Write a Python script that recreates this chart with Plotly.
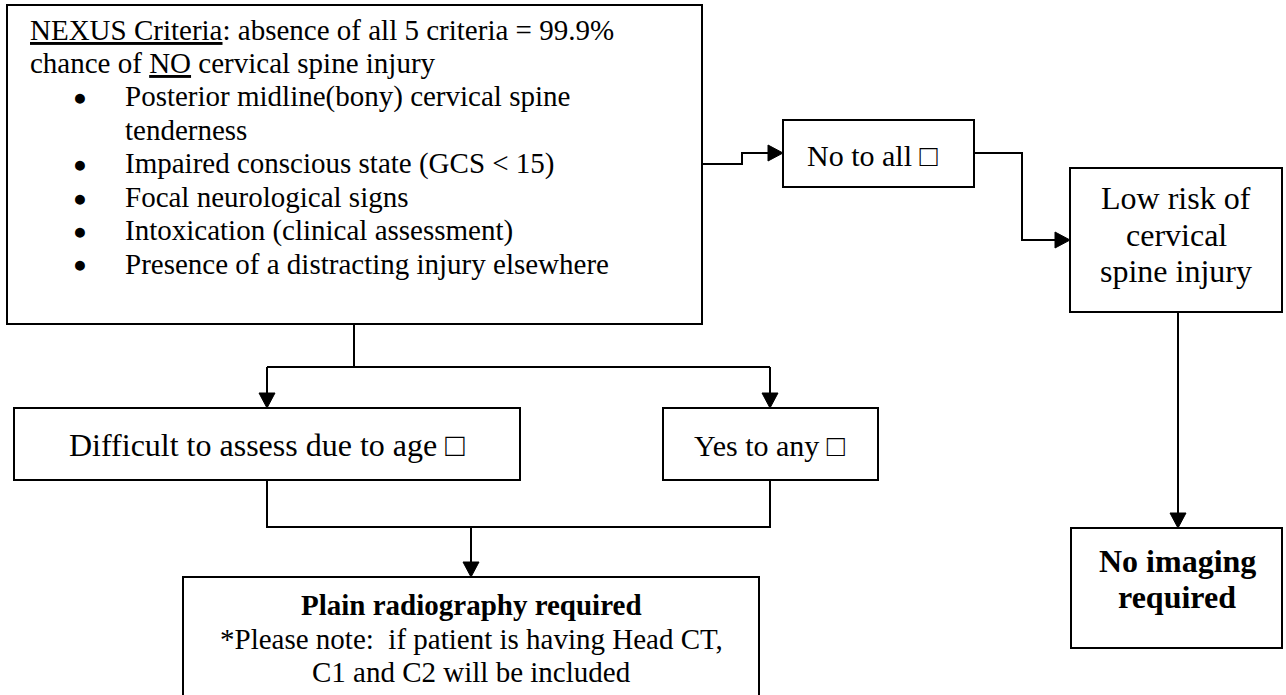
import plotly.graph_objects as go

# ---------------- data ----------------
nexus_header = ["<u>NEXUS Criteria</u>: absence of all 5 criteria = 99.9%",
                "chance of <u>NO</u> cervical spine injury"]
nexus_bullets = ["Posterior midline(bony) cervical spine",
                 None,
                 "Impaired conscious state (GCS &lt; 15)",
                 "Focal neurological signs",
                 "Intoxication (clinical assessment)",
                 "Presence of a distracting injury elsewhere"]
nexus_cont = ["", "tenderness", "", "", "", ""]
no_to_all_text = "No to all □"
low_risk_lines = ["Low risk of", "cervical", "spine injury"]
no_imaging_lines = ["<b>No imaging</b>", "<b>required</b>"]
difficult_text = "Difficult to assess due to age □"
yes_any_text = "Yes to any □"
plain_lines = ["<b>Plain radiography required</b>",
               "*Please note:  if patient is having Head CT,",
               "C1 and C2 will be included"]

# ---------------- layout geometry (pixels, y downward) ----------------
boxes = {
    "main": (7, 5, 702, 324),
    "noall": (783, 120, 974, 187),
    "low": (1070, 168, 1282, 312),
    "noimg": (1071, 528, 1282, 648),
    "diff": (14, 408, 520, 480),
    "yes": (663, 408, 878, 480),
    "plain": (183, 577, 759, 740),
}
# polylines: (points, arrow_at_end)
paths = [
    ([(702, 164), (742, 164), (742, 153), (783, 153)], True),
    ([(974, 153), (1022, 153), (1022, 240), (1070, 240)], True),
    ([(1178, 312), (1178, 528)], True),
    ([(354, 324), (354, 367)], False),
    ([(267, 367), (770, 367)], False),
    ([(267, 367), (267, 408)], True),
    ([(770, 367), (770, 408)], True),
    ([(267, 480), (267, 527), (770, 527), (770, 480)], False),
    ([(471, 527), (471, 577)], True),
]

FONT = "Liberation Serif, Times New Roman, serif"
FS = 29
LW = 2
AH_L, AH_W = 15, 8

fig = go.Figure()
shapes = []
for (x0, y0, x1, y1) in boxes.values():
    shapes.append(dict(type="rect", x0=x0, y0=y0, x1=x1, y1=y1,
                       line=dict(color="black", width=LW), fillcolor="rgba(0,0,0,0)"))

for pts, arrow in paths:
    pts = list(pts)
    if arrow:
        (xa, ya), (xb, yb) = pts[-2], pts[-1]
        dx = (xb > xa) - (xb < xa)
        dy = (yb > ya) - (yb < ya)
        bx, by = xb - dx * AH_L, yb - dy * AH_L
        px, py = -dy * AH_W, dx * AH_W
        shapes.append(dict(type="path",
                           path=f"M{xb},{yb} L{bx+px},{by+py} L{bx-px},{by-py} Z",
                           fillcolor="black", line=dict(color="black", width=1)))
        pts[-1] = (bx, by)
    d = "M" + " L".join(f"{x},{y}" for x, y in pts)
    shapes.append(dict(type="path", path=d, line=dict(color="black", width=LW)))

ann = []
def txt(x, y, s, anchor="center", size=FS):
    ann.append(dict(x=x, y=y, text=s, showarrow=False, xanchor=anchor, yanchor="middle",
                    font=dict(family=FONT, size=size, color="black"), xref="x", yref="y"))

y0, dy = 30, 33.4
for i, s in enumerate(nexus_header):
    txt(28, y0 + i * dy, s, "left")
for j, s in enumerate(nexus_bullets):
    yy = y0 + (j + 2) * dy
    if s is not None:
        txt(80, yy + 1, "●", "center", size=23)
        txt(123, yy, s, "left")
    else:
        txt(123, yy, nexus_cont[j], "left")

txt(805, 155, no_to_all_text, "left", size=30)
for i, s in enumerate(low_risk_lines):
    txt(1176, 198 + i * 36.5, s, size=32)
for i, s in enumerate(no_imaging_lines):
    txt(1177, 561 + i * 36, s, size=32)
txt(267, 445, difficult_text, size=32)
txt(770, 445, yes_any_text, size=30)
for i, s in enumerate(plain_lines):
    txt(471, 605 + i * 33.5, s)

fig.update_layout(
    width=1286, height=695, margin=dict(l=0, r=0, t=0, b=0),
    paper_bgcolor="white", plot_bgcolor="white",
    xaxis=dict(range=[0, 1286], visible=False, fixedrange=True),
    yaxis=dict(range=[695, 0], visible=False, fixedrange=True),
    shapes=shapes, annotations=ann, showlegend=False,
)
fig.write_html("out.html", config={"displayModeBar": False},
               post_script="document.body.style.margin='0';document.body.style.overflow='hidden';")
